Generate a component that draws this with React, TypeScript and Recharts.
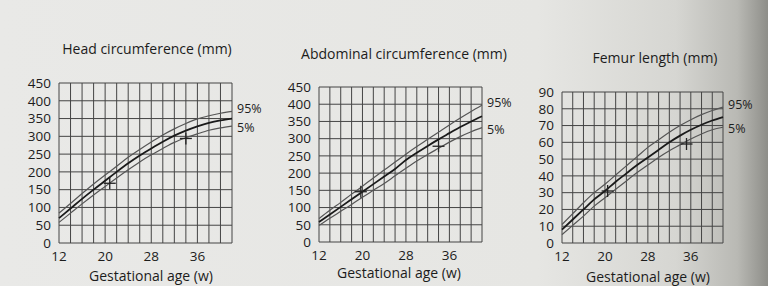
import { ComposedChart, Line, Scatter, XAxis, YAxis, CartesianGrid, LabelList } from 'recharts';

const weeks = [12, 14, 16, 18, 20, 22, 24, 26, 28, 30, 32, 34, 36, 38, 40, 42];
const ageTicks = weeks;
const ageLabels = [12, 20, 28, 36];

const hcP95 = [84, 111, 139, 166, 191, 216, 241, 263, 284, 304, 321, 336, 349, 358, 365, 370];
const hcP50 = [70, 97, 124, 150, 175, 200, 224, 246, 266, 285, 302, 316, 328, 338, 345, 350];
const hcP5 = [58, 84, 110, 135, 159, 183, 206, 228, 248, 266, 283, 296, 307, 317, 324, 329];
const hcMarks = [
  { week: 20.8, value: 168 },
  { week: 34, value: 294 },
];

const acP95 = [68, 92, 115, 139, 162, 186, 209, 232, 255, 277, 298, 319, 340, 360, 379, 397];
const acP50 = [58, 80, 102, 124, 146, 168, 190, 212, 238, 259, 279, 298, 316, 334, 350, 365];
const acP5 = [48, 69, 89, 109, 130, 150, 170, 192, 214, 235, 254, 272, 290, 306, 320, 332];
const acMarks = [
  { week: 19.7, value: 146 },
  { week: 34, value: 278 },
];

const flP95 = [11, 17.5, 24, 30, 35, 40.5, 46, 51.5, 57, 61.5, 66, 70, 73.5, 76.5, 79, 81];
const flP50 = [8, 14, 20, 26, 31, 36.5, 41.5, 46.5, 51, 55.5, 60, 64, 67.5, 70.5, 73, 75];
const flP5 = [5, 10.5, 16, 22, 27, 32, 37, 42, 46.5, 51, 55, 58.5, 62, 65, 67.5, 69];
const flMarks = [
  { week: 20.5, value: 31 },
  { week: 35.2, value: 59 },
];

const hcTicks = [0, 50, 100, 150, 200, 250, 300, 350, 400, 450];
const flTicks = [0, 10, 20, 30, 40, 50, 60, 70, 80, 90];

const FONT = '"Open Sans", "Noto Sans", sans-serif';
const INK = '#1c1c1c';

function buildRows(p95: number[], p50: number[], p5: number[]) {
  return weeks.map((w, i) => ({ week: w, p95: p95[i], p50: p50[i], p5: p5[i] }));
}

function Cross(props: any) {
  const { cx, cy } = props;
  if (cx == null || cy == null) return null;
  return (
    <g stroke="#222" strokeWidth={1.3}>
      <line x1={cx - 6} y1={cy} x2={cx + 6} y2={cy} />
      <line x1={cx} y1={cy - 6} x2={cx} y2={cy + 6} />
    </g>
  );
}

function EndLabel(text: string, lastIndex: number, dy: number) {
  return (props: any) => {
    const { x, y, index } = props;
    if (index !== lastIndex) return null;
    return (
      <text x={x + 5} y={y + 4 + dy} fontSize={12.5} fill={INK} fontFamily={FONT}>
        {text}
      </text>
    );
  };
}

interface PanelProps {
  left: number;
  width: number;
  plotLeft: number;
  plotRight: number;
  plotTop: number;
  plotBottom: number;
  yMax: number;
  yTicks: number[];
  title: string;
  titleX: number;
  titleY: number;
  labelX: number;
  labelY: number;
  p95: number[];
  p50: number[];
  p5: number[];
  marks: { week: number; value: number }[];
}

function Panel(p: PanelProps) {
  const height = 286;
  const yAxisW = 44;
  const xAxisH = 24;
  const rows = buildRows(p.p95, p.p50, p.p5);
  const last = rows.length - 1;
  const textStyle = {
    position: 'absolute' as const,
    textAlign: 'center' as const,
    fontFamily: FONT,
    fontSize: 14,
    color: INK,
    lineHeight: '18px',
    whiteSpace: 'nowrap' as const,
  };
  return (
    <div style={{ position: 'absolute', left: p.left, top: 0, width: p.width, height }}>
      <div style={{ ...textStyle, left: p.titleX - p.left - 120, width: 240, top: p.titleY - 9 }}>{p.title}</div>
      <ComposedChart
        width={p.width}
        height={height}
        data={rows}
        margin={{
          left: p.plotLeft - p.left - yAxisW,
          right: p.left + p.width - p.plotRight,
          top: p.plotTop,
          bottom: height - p.plotBottom - xAxisH,
        }}
      >
        <CartesianGrid stroke="#444" strokeWidth={1} />
        <XAxis
          dataKey="week"
          type="number"
          domain={[12, 42]}
          ticks={ageTicks}
          interval={0}
          height={xAxisH}
          axisLine={false}
          tickLine={false}
          tick={{ fontSize: 13.5, fill: INK, fontFamily: FONT }}
          tickFormatter={(v: number) => (ageLabels.includes(v) ? String(v) : '')}
        />
        <YAxis
          type="number"
          domain={[0, p.yMax]}
          ticks={p.yTicks}
          interval={0}
          width={yAxisW}
          axisLine={false}
          tickLine={false}
          tick={{ fontSize: 13.5, fill: INK, fontFamily: FONT }}
        />
        <Line dataKey="p95" stroke="#555" strokeWidth={1.2} dot={false} type="monotone" isAnimationActive={false}>
          <LabelList dataKey="p95" content={EndLabel('95%', last, -2)} />
        </Line>
        <Line dataKey="p50" stroke="#1a1a1a" strokeWidth={1.8} dot={false} type="monotone" isAnimationActive={false} />
        <Line dataKey="p5" stroke="#555" strokeWidth={1.2} dot={false} type="monotone" isAnimationActive={false}>
          <LabelList dataKey="p5" content={EndLabel('5%', last, 2)} />
        </Line>
        <Scatter data={p.marks} dataKey="value" shape={<Cross />} isAnimationActive={false} />
      </ComposedChart>
      <div style={{ ...textStyle, left: p.labelX - p.left - 100, width: 200, top: p.labelY - 9 }}>
        Gestational age (w)
      </div>
    </div>
  );
}

export default function App() {
  return (
    <div
      style={{
        position: 'absolute',
        left: 0,
        top: 0,
        width: 768,
        height: 286,
        overflow: 'hidden',
        background: 'linear-gradient(90deg, #e9e9e7 0%, #e6e6e3 70%, #d6d6d2 88%, #b9b9b4 96%, #8e8e89 100%)',
      }}
    >
      <Panel
        left={0}
        width={268}
        plotLeft={59}
        plotRight={232}
        plotTop={83}
        plotBottom={243}
        yMax={450}
        yTicks={hcTicks}
        title="Head circumference (mm)"
        titleX={147}
        titleY={49}
        labelX={151}
        labelY={276}
        p95={hcP95}
        p50={hcP50}
        p5={hcP5}
        marks={hcMarks}
      />
      <Panel
        left={262}
        width={254}
        plotLeft={319}
        plotRight={482}
        plotTop={87}
        plotBottom={242}
        yMax={450}
        yTicks={hcTicks}
        title="Abdominal circumference (mm)"
        titleX={404}
        titleY={54}
        labelX={399}
        labelY={273}
        p95={acP95}
        p50={acP50}
        p5={acP5}
        marks={acMarks}
      />
      <Panel
        left={516}
        width={252}
        plotLeft={562}
        plotRight={723}
        plotTop={92}
        plotBottom={243}
        yMax={90}
        yTicks={flTicks}
        title="Femur length (mm)"
        titleX={655}
        titleY={58}
        labelX={648}
        labelY={277}
        p95={flP95}
        p50={flP50}
        p5={flP5}
        marks={flMarks}
      />
    </div>
  );
}
